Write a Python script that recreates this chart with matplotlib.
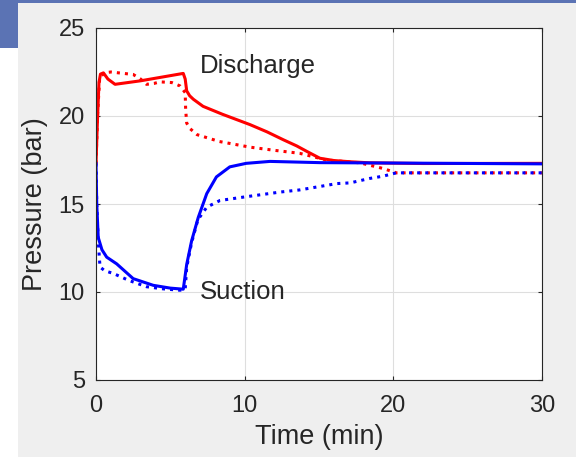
import matplotlib.pyplot as plt
from matplotlib.patches import Rectangle

plt.rcParams['font.family'] = ['Liberation Sans', 'DejaVu Sans']

# discharge pressure, solid (model) and dotted (measured)
t_dis = [0, 0.1, 0.2, 0.3, 0.5, 0.8, 1.28, 3.0, 5.87, 6.0, 6.1, 6.3, 6.55, 7.2, 8.5, 10.36, 11.5, 12.6,
         13.5, 14.2, 15.06, 16.0, 17.1, 18.4, 22, 30]
p_dis = [17.3, 19.8, 21.9, 22.38, 22.45, 22.1, 21.8, 22.0, 22.42, 22.1, 21.43, 21.15, 20.95, 20.55, 20.1, 19.51,
         19.1, 18.65, 18.3, 17.98, 17.6, 17.47, 17.4, 17.34, 17.3, 17.31]

t_dis_m = [0, 0.1, 0.25, 0.6, 1.0, 2.5, 3.0, 3.4, 3.9, 4.3, 5.1, 5.65, 6.0, 6.03, 6.1, 6.3, 6.8, 8.3, 10.36,
           12.0, 13.7, 15.5, 17.75, 19.3, 20.2, 30]
p_dis_m = [17.3, 20.0, 22.2, 22.46, 22.5, 22.36, 22.1, 21.8, 21.85, 21.94, 21.9, 21.71, 21.33, 20.37, 19.6,
           19.3, 18.94, 18.55, 18.23, 18.05, 17.88, 17.5, 17.34, 17.02, 16.77, 16.77]

# suction pressure
t_suc = [0, 0.05, 0.15, 0.4, 0.72, 1.39, 2.5, 3.85, 5.0, 5.87, 6.1, 6.43, 6.88, 7.45, 8.1, 9.0, 10.1, 11.7,
         15.06, 30]
p_suc = [17.3, 15.0, 13.1, 12.4, 11.98, 11.6, 10.76, 10.38, 10.22, 10.16, 11.56, 12.9, 14.24, 15.59, 16.54,
         17.11, 17.31, 17.42, 17.35, 17.28]

t_suc_m = [0, 0.05, 0.15, 0.27, 0.6, 1.15, 2.2, 3.4, 4.5, 5.65, 6.0, 6.1, 6.43, 6.85, 7.45, 8.34, 9.9, 12.4,
           13.7, 16.2, 17.1, 18.4, 19.3, 20.2, 30]
p_suc_m = [17.3, 15.0, 12.9, 11.42, 11.2, 11.06, 10.66, 10.3, 10.18, 10.1, 10.16, 11.4, 12.8, 14.1, 14.82,
           15.2, 15.39, 15.68, 15.8, 16.16, 16.2, 16.45, 16.58, 16.77, 16.77]

fig = plt.figure(figsize=(5.76, 4.58), dpi=100)
fig.patch.set_facecolor('white')
# slide-like background
fig.patches.append(Rectangle((18 / 576, 1 / 458), 558 / 576, 454 / 458, transform=fig.transFigure,
                             facecolor='#efefef', edgecolor='none', zorder=-3))
fig.patches.append(Rectangle((0, 455 / 458), 1, 3 / 458, transform=fig.transFigure,
                             facecolor='#5b73b4', edgecolor='none', zorder=-2))
fig.patches.append(Rectangle((0, 410 / 458), 18 / 576, 48 / 458, transform=fig.transFigure,
                             facecolor='#5b73b4', edgecolor='none', zorder=-2))

ax = fig.add_axes([96 / 576, 1 - 380 / 458, 446 / 576, 352 / 458])
ax.plot(t_dis, p_dis, color='red', lw=2.2)
ax.plot(t_dis_m, p_dis_m, color='red', lw=2.2, ls=':')
ax.plot(t_suc, p_suc, color='blue', lw=2.2)
ax.plot(t_suc_m, p_suc_m, color='blue', lw=2.2, ls=':')

ax.text(7.0, 22.84, 'Discharge', fontsize=18.5, color='#262626', va='center')
ax.text(7.0, 10.0, 'Suction', fontsize=18.5, color='#262626', va='center')

ax.set_xlim(0, 30)
ax.set_ylim(5, 25)
ax.set_xticks([0, 10, 20, 30])
ax.set_yticks([5, 10, 15, 20, 25])
ax.grid(True, color='#dedede', lw=0.8)
ax.set_axisbelow(True)
ax.tick_params(direction='in', top=True, right=True, labelsize=17, colors='#262626', length=3)
ax.tick_params(axis='x', pad=11)
ax.tick_params(axis='y', pad=8)
for s in ax.spines.values():
    s.set_color('#262626')
ax.set_xlabel('Time (min)', fontsize=19.5, color='#262626', labelpad=5)
ax.set_ylabel('Pressure (bar)', fontsize=19.5, color='#262626', labelpad=8)

fig.savefig('out.png', dpi=100)
